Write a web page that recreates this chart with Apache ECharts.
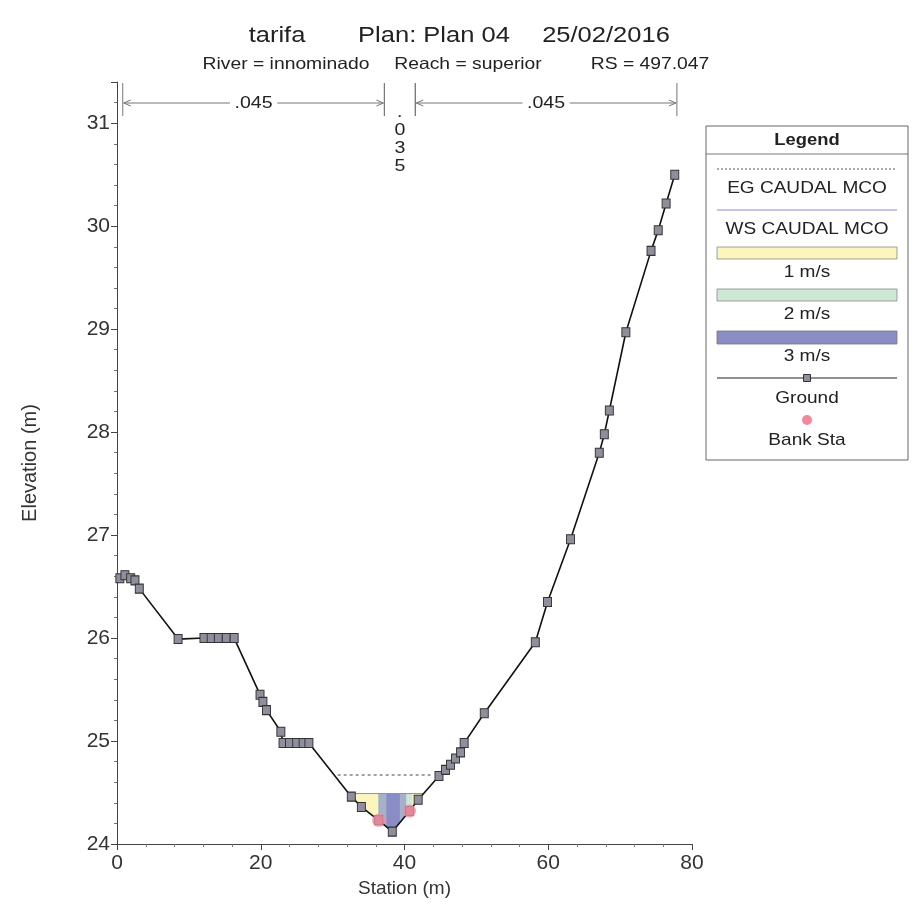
<!DOCTYPE html>
<html><head><meta charset="utf-8">
<script src="https://cdn.jsdelivr.net/npm/echarts@6/dist/echarts.min.js"></script>
<style>html,body{margin:0;padding:0;background:#fff}#c{width:922px;height:922px}</style>
</head><body><div id="c"></div>
<script>
// ---------- data ----------
const groundStation = [0.4, 1.1, 1.9, 2.5, 3.1, 8.5, 12.1, 13.1, 14.1, 15.2, 16.3, 19.9, 20.3, 20.8, 22.8, 23.1, 24.0, 25.0, 25.9, 26.7, 32.6, 34.0, 36.4, 38.3, 40.7, 41.9, 44.8, 45.7, 46.4, 47.1, 47.8, 48.3, 51.1, 58.2, 59.9, 63.1, 67.1, 67.8, 68.5, 70.8, 74.3, 75.3, 76.4, 77.6];
const groundElev = [26.58, 26.61, 26.58, 26.56, 26.48, 25.99, 26.0, 26.0, 26.0, 26.0, 26.0, 25.45, 25.38, 25.30, 25.09, 24.98, 24.98, 24.98, 24.98, 24.98, 24.46, 24.36, 24.23, 24.12, 24.32, 24.43, 24.66, 24.72, 24.77, 24.83, 24.89, 24.98, 25.27, 25.96, 26.35, 26.96, 27.80, 27.98, 28.21, 28.97, 29.76, 29.96, 30.22, 30.50];
const bankStation = [36.4, 40.7];
const bankElev = [24.23, 24.32];
const wsElev = 24.49;
const wsStation = [32.3, 42.6];
const egElev = 24.67;
const egStation = [30.7, 43.8];
const velBounds = [32.3, 36.4, 37.5, 39.4, 40.3, 41.1, 42.6];
const velValues = [1.0, 2.6, 3.0, 2.6, 2.0, 1.1];
const nDividers = [0.8, 37.2, 41.5, 77.9];
const nValues = ['.045', '.035', '.045'];
const legendVel = [1, 2, 3];
const legendLabels = ['EG CAUDAL MCO', 'WS CAUDAL MCO', '1 m/s', '2 m/s', '3 m/s', 'Ground', 'Bank Sta'];
const titleParts = ['tarifa', 'Plan: Plan 04', '25/02/2016'];
const subtitleParts = ['River = innominado', 'Reach = superior', 'RS = 497.047'];
const xMin = 0, xMax = 80, xInterval = 20;
const yMin = 24, yMax = 31.4, yInterval = 1;

// ---------- helpers ----------
const FONT = '"Liberation Sans", Arial, sans-serif';
function groundAt(s) {
  for (let i = 0; i < groundStation.length - 1; i++) {
    const a = groundStation[i], b = groundStation[i + 1];
    if (s >= a && s <= b) return groundElev[i] + (groundElev[i + 1] - groundElev[i]) * (s - a) / (b - a);
  }
  return s < groundStation[0] ? groundElev[0] : groundElev[groundElev.length - 1];
}
function velColor(v) {
  const stops = [[1, [252, 246, 190]], [2, [206, 232, 214]], [3, [138, 140, 196]]];
  if (v <= stops[0][0]) return 'rgb(' + stops[0][1].join(',') + ')';
  for (let i = 0; i < stops.length - 1; i++) {
    const [v0, c0] = stops[i], [v1, c1] = stops[i + 1];
    if (v <= v1) {
      const t = (v - v0) / (v1 - v0);
      return 'rgb(' + c0.map((c, k) => Math.round(c + (c1[k] - c) * t)).join(',') + ')';
    }
  }
  return 'rgb(' + stops[stops.length - 1][1].join(',') + ')';
}
function stext(text, x, y, size, sx, extra) {
  return {
    type: 'text', x: x, y: y, scaleX: sx, z: 10,
    style: Object.assign({ text: text, x: 0, y: 0, fill: '#222', fontSize: size, fontFamily: FONT,
      textAlign: 'center', textVerticalAlign: 'middle' }, extra || {})
  };
}

// ---------- graphics (title + legend) ----------
const LX = 706, LW = 202, LC = LX + LW / 2, SL = 717, SR = 897;
const graphics = [
  stext(titleParts[0], 277, 36, 22, 1.16),
  stext(titleParts[1], 434, 36, 22, 1.16),
  stext(titleParts[2], 606, 36, 22, 1.16),
  stext(subtitleParts[0], 286, 64, 16.5, 1.17),
  stext(subtitleParts[1], 468, 64, 16.5, 1.17),
  stext(subtitleParts[2], 650, 64, 16.5, 1.17),
  { type: 'rect', z: 9, shape: { x: LX, y: 126, width: LW, height: 334 }, style: { fill: '#fff', stroke: '#666', lineWidth: 1 } },
  { type: 'line', z: 10, shape: { x1: LX, y1: 154, x2: LX + LW, y2: 154 }, style: { stroke: '#777', lineWidth: 1 } },
  stext('Legend', LC, 140, 17, 1.08, { fontWeight: 'bold' }),
  { type: 'line', z: 10, shape: { x1: SL, y1: 169, x2: SR, y2: 169 }, style: { stroke: '#555', lineWidth: 1, lineDash: [2, 2] } },
  stext(legendLabels[0], LC, 188, 17, 1.12),
  { type: 'line', z: 10, shape: { x1: SL, y1: 210, x2: SR, y2: 210 }, style: { stroke: '#8a8ad2', lineWidth: 1 } },
  stext(legendLabels[1], LC, 229, 17, 1.12),
  { type: 'rect', z: 10, shape: { x: SL, y: 247, width: SR - SL, height: 12 }, style: { fill: velColor(legendVel[0]), stroke: '#888', lineWidth: 0.8 } },
  stext(legendLabels[2], LC, 272, 17, 1.12),
  { type: 'rect', z: 10, shape: { x: SL, y: 289, width: SR - SL, height: 12 }, style: { fill: velColor(legendVel[1]), stroke: '#888', lineWidth: 0.8 } },
  stext(legendLabels[3], LC, 314, 17, 1.12),
  { type: 'rect', z: 10, shape: { x: SL, y: 331, width: SR - SL, height: 13 }, style: { fill: velColor(legendVel[2]), stroke: '#777', lineWidth: 0.8 } },
  stext(legendLabels[4], LC, 356, 17, 1.12),
  { type: 'line', z: 10, shape: { x1: SL, y1: 378, x2: SR, y2: 378 }, style: { stroke: '#222', lineWidth: 1.2 } },
  { type: 'rect', z: 11, shape: { x: LC - 3.5, y: 374.5, width: 7, height: 7 }, style: { fill: '#8e8e9c', stroke: '#333', lineWidth: 1 } },
  stext(legendLabels[5], LC, 398, 17, 1.12),
  { type: 'circle', z: 10, shape: { cx: LC, cy: 420, r: 5 }, style: { fill: '#f4889c' } },
  stext(legendLabels[6], LC, 440, 17, 1.12)
];

// ---------- chart ----------
const chart = echarts.init(document.getElementById('c'), null, { renderer: 'canvas' });
const axisCommon = {
  type: 'value', nameLocation: 'middle',
  nameTextStyle: { fontFamily: FONT, fontSize: 19, color: '#333' },
  axisLine: { show: true, lineStyle: { color: '#444', width: 1 } },
  axisTick: { show: true, length: 6, lineStyle: { color: '#444' } },
  minorTick: { show: true, splitNumber: 5, length: 3, lineStyle: { color: '#777' } },
  axisLabel: { fontFamily: FONT, fontSize: 21, color: '#333' },
  splitLine: { show: false }
};
const option = {
  animation: false,
  backgroundColor: '#fff',
  grid: { left: 117, right: 230, top: 82, bottom: 78 },
  graphic: graphics,
  xAxis: Object.assign({}, axisCommon, {
    min: xMin, max: xMax, interval: xInterval, name: 'Station (m)', nameGap: 31,
    axisLabel: Object.assign({}, axisCommon.axisLabel, { margin: 9, showMaxLabel: true, showMinLabel: true })
  }),
  yAxis: Object.assign({}, axisCommon, {
    min: yMin, max: yMax, interval: yInterval, name: 'Elevation (m)', nameGap: 77, nameRotate: 90,
    nameTextStyle: { fontFamily: FONT, fontSize: 20, color: '#333' },
    axisLabel: Object.assign({}, axisCommon.axisLabel, { margin: 7, showMaxLabel: false })
  }),
  series: [
    {
      type: 'custom', name: 'velocity', z: 1, silent: true,
      data: velValues.map((v, i) => [velBounds[i], velBounds[i + 1], wsElev, v]),
      encode: { x: [0, 1], y: 2 },
      renderItem: function (params, api) {
        const s0 = api.value(0), s1 = api.value(1), v = api.value(3);
        const xs = [s0].concat(groundStation.filter(s => s > s0 && s < s1), [s1]);
        const pts = xs.map(s => api.coord([s, Math.min(groundAt(s), wsElev)]));
        pts.push(api.coord([s1, wsElev]));
        pts.push(api.coord([s0, wsElev]));
        const c = velColor(v);
        return { type: 'polygon', shape: { points: pts }, style: { fill: c, stroke: c, lineWidth: 0.6 } };
      }
    },
    {
      type: 'line', name: 'WS CAUDAL MCO', z: 2, symbol: 'none', silent: true,
      data: wsStation.map(s => [s, wsElev]),
      lineStyle: { color: '#8a8ad2', width: 1 }
    },
    {
      type: 'line', name: 'EG CAUDAL MCO', z: 2, symbol: 'none', silent: true,
      data: egStation.map(s => [s, egElev]),
      lineStyle: { color: '#444', width: 1, type: [3, 3] }
    },
    {
      type: 'line', name: 'Ground', z: 3, silent: true,
      data: groundStation.map((s, i) => [s, groundElev[i]]),
      symbol: 'rect', symbolSize: [8, 9], showAllSymbol: true,
      itemStyle: { color: '#8e8e9c', borderColor: '#333', borderWidth: 1 },
      lineStyle: { color: '#111', width: 1.6 }
    },
    {
      type: 'scatter', name: 'Bank Sta', z: 20, zlevel: 0, silent: true,
      data: bankStation.map((s, i) => [s, bankElev[i]]),
      symbol: 'circle', symbolSize: 13,
      itemStyle: { color: '#f4889c' }
    },
    {
      type: 'custom', name: 'n values', z: 5, silent: true, clip: false,
      data: nValues.map((n, i) => [nDividers[i], nDividers[i + 1], yMax, i]),
      encode: { x: [0, 1], y: 2 },
      renderItem: function (params, api) {
        const p0 = api.coord([api.value(0), yMax]);
        const p1 = api.coord([api.value(1), yMax]);
        const top = p0[1];
        const label = nValues[api.value(3)];
        const dTop = top + 1, dBot = top + 34, ay = top + 21;
        const gray = '#777';
        const ch = [
          { type: 'line', shape: { x1: p0[0], y1: dTop, x2: p0[0], y2: dBot }, style: { stroke: gray, lineWidth: 1 } },
          { type: 'line', shape: { x1: p1[0], y1: dTop, x2: p1[0], y2: dBot }, style: { stroke: gray, lineWidth: 1 } }
        ];
        if (p1[0] - p0[0] > 60) {
          ch.push({ type: 'line', shape: { x1: p0[0] + 1, y1: ay, x2: p1[0] - 1, y2: ay }, style: { stroke: gray, lineWidth: 1 } });
          ch.push({ type: 'polyline', shape: { points: [[p0[0] + 8, ay - 3], [p0[0] + 1, ay], [p0[0] + 8, ay + 3]] }, style: { stroke: gray, lineWidth: 1, fill: null } });
          ch.push({ type: 'polyline', shape: { points: [[p1[0] - 8, ay - 3], [p1[0] - 1, ay], [p1[0] - 8, ay + 3]] }, style: { stroke: gray, lineWidth: 1, fill: null } });
          ch.push({ type: 'text', x: (p0[0] + p1[0]) / 2, y: ay, scaleX: 1.15,
            style: { text: label, x: 0, y: 0, fill: '#222', fontSize: 17, fontFamily: FONT, textAlign: 'center', textVerticalAlign: 'middle',
              backgroundColor: '#fff', padding: [0, 4] } });
        } else {
          const cx = (p0[0] + p1[0]) / 2;
          label.split('').forEach((c, k) => {
            ch.push({ type: 'text', x: cx, y: top + 30 + k * 18, scaleX: 1.15,
              style: { text: c, x: 0, y: 0, fill: '#222', fontSize: 17, fontFamily: FONT, textAlign: 'center', textVerticalAlign: 'middle' } });
          });
        }
        return { type: 'group', children: ch };
      }
    }
  ]
};
chart.setOption(option);
</script>
</body></html>
